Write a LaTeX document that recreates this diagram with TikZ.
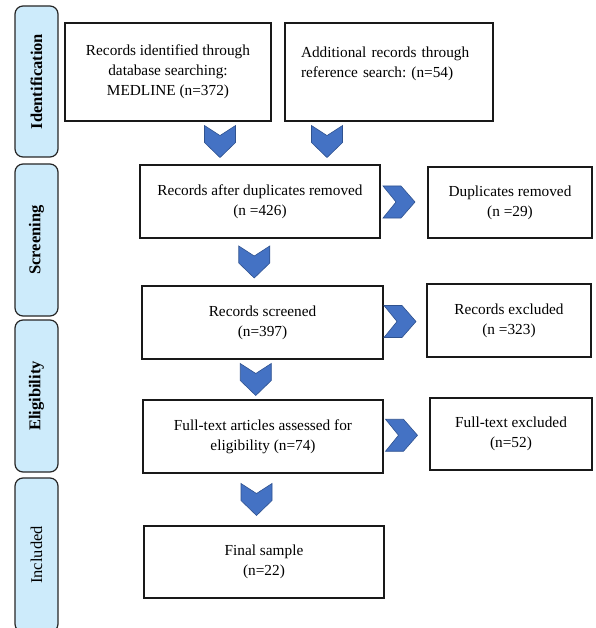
\documentclass[tikz,border=0pt]{standalone}
\usepackage{fontspec}
\setmainfont{Liberation Serif}
\usetikzlibrary{calc}
\definecolor{Stage}{HTML}{CDEBFB}
\definecolor{Chev}{HTML}{4472C4}
\definecolor{ChevEdge}{HTML}{2F528F}
\frenchspacing

\begin{document}
\begin{tikzpicture}[x=1pt,y=-1pt,
  box/.style={draw=black!90,line width=1.1pt,align=center,inner sep=0pt,
    font=\fontsize{15.3}{20}\selectfont,minimum width=240,minimum height=73},
  stage/.style={draw=black!85,line width=1.2pt,rounded corners=8pt,fill=Stage,rotate=90,
    inner sep=0pt,minimum height=43,font=\fontsize{16.5}{20}\selectfont},
  downchev/.pic={\draw[fill=Chev,draw=ChevEdge,line width=0.6pt]
    (-15.5,-16)--(0,-6)--(15.5,-16)--(15.5,1)--(0,16)--(-15.5,1)--cycle;},
  rightchev/.pic={\draw[fill=Chev,draw=ChevEdge,line width=0.6pt]
    (-16,-16)--(2,-16)--(16,0)--(2,16)--(-16,16)--(-3,0)--cycle;}]
\useasboundingbox (0,0) rectangle (595,628);
\clip (0,0) rectangle (595,628);
% stages
\node[stage,minimum width=151] (id) at (36.5,81.5) {\textbf{Identification}};
\node[stage,minimum width=152] (scr) at (36.5,240) {\textbf{Screening}};
\node[stage,minimum width=152] (eli) at (36.5,396) {\textbf{Eligibility}};
\node[stage,minimum width=154] (inc) at (36.5,555) {Included};
% boxes
\node[box,minimum width=206,minimum height=98] (a) at (168,72) {Records identified through\\database searching:\\MEDLINE (n=372)};
\node[box,minimum width=208,minimum height=98,align=left,text width=176] (b) at (389,72) {Additional records through\\reference search: (n=54)\\\mbox{}};
\node[box] (c) at (260,201.5) {Records after duplicates removed\\(n =426)};
\node[box,minimum width=164,minimum height=71] (d) at (510,202.5) {Duplicates removed\\(n =29)};
\node[box,minimum width=241] (e) at (262.5,322.5) {Records screened\\(n=397)};
\node[box,minimum width=164] (f) at (509,320.5) {Records excluded\\(n =323)};
\node[box] (g) at (263,436.5) {Full-text articles assessed for\\eligibility (n=74)};
\node[box,minimum width=162,minimum height=72] (h) at (511,434) {Full-text excluded\\(n=52)};
\node[box,minimum height=72] (i) at (264,562) {Final sample\\(n=22)};
% chevrons
\pic at ($(a.south)+(52,20)$) {downchev};
\pic at ($(b.south)+(-62,20)$) {downchev};
\foreach \p/\q in {c/e,e/g,g/i} \pic at ($(\p.south)!.5!(\q.north)+(-7,0)$) {downchev};
\foreach \p/\q in {c/d,e/f,g/h} \pic at ($(\p.east)!.5!(\q.west)+(-5,0)$) {rightchev};
\end{tikzpicture}
\end{document}
